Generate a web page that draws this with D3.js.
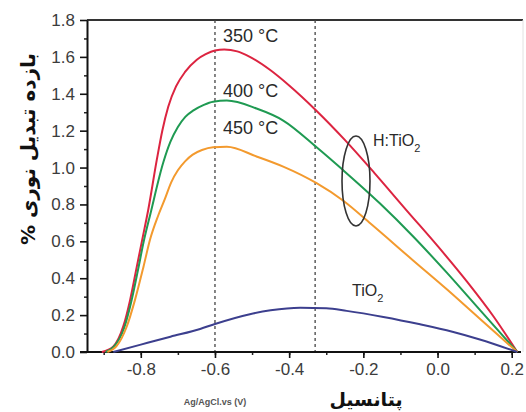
<!DOCTYPE html>
<html>
<head>
<meta charset="utf-8">
<script src="https://cdn.jsdelivr.net/npm/d3@7"></script>
<style>
  body { margin: 0; background: #fff; }
  .tick text { font-family: "Liberation Sans", Arial, sans-serif; font-size: 17px; fill: #3c3c3c; }
  .note { font-family: "Liberation Sans", Arial, sans-serif; fill: #2a2a2a; }
</style>
</head>
<body>
<div id="chart"></div>
<script>
// Potential (V vs Ag/AgCl) and efficiency (%) for each film
var pot350 = [-0.905, -0.874, -0.847, -0.829, -0.811, -0.795, -0.78, -0.757, -0.742, -0.726, -0.705, -0.68, -0.649, -0.625, -0.6, -0.575, -0.54, -0.506, -0.452, -0.4, -0.33, -0.25, -0.17, -0.08, 0.0, 0.08, 0.15, 0.215];
var eff350 = [0, 0.03, 0.14, 0.28, 0.46, 0.62, 0.77, 1.04, 1.2, 1.33, 1.44, 1.52, 1.585, 1.615, 1.635, 1.64, 1.63, 1.60, 1.53, 1.445, 1.315, 1.15, 0.97, 0.76, 0.575, 0.38, 0.195, 0];

var pot400 = [-0.895, -0.872, -0.845, -0.826, -0.808, -0.792, -0.774, -0.739, -0.72, -0.7, -0.68, -0.658, -0.63, -0.605, -0.568, -0.488, -0.416, -0.326, -0.254, -0.155, -0.065, 0.025, 0.114, 0.215];
var eff400 = [0, 0.03, 0.13, 0.27, 0.44, 0.6, 0.75, 1.03, 1.14, 1.22, 1.275, 1.31, 1.34, 1.357, 1.363, 1.32, 1.255, 1.11, 0.985, 0.805, 0.625, 0.43, 0.228, 0];

var pot450 = [-0.89, -0.866, -0.838, -0.816, -0.793, -0.775, -0.753, -0.735, -0.718, -0.7, -0.68, -0.66, -0.635, -0.605, -0.568, -0.488, -0.416, -0.326, -0.254, -0.18, -0.065, 0.025, 0.114, 0.215];
var eff450 = [0, 0.03, 0.137, 0.28, 0.46, 0.61, 0.74, 0.83, 0.92, 0.985, 1.035, 1.07, 1.095, 1.11, 1.113, 1.06, 1.005, 0.915, 0.82, 0.695, 0.495, 0.34, 0.18, 0];

var potTiO2 = [-0.874, -0.8, -0.72, -0.64, -0.6, -0.506, -0.45, -0.37, -0.3, -0.245, -0.146, -0.047, 0.04, 0.114, 0.215];
var effTiO2 = [0, 0.04, 0.083, 0.125, 0.152, 0.205, 0.226, 0.24, 0.237, 0.223, 0.19, 0.15, 0.11, 0.068, 0];

var xTicks = [-0.8, -0.6, -0.4, -0.2, 0.0, 0.2];
var xTickLabels = ["-0.8", "-0.6", "-0.4", "-0.2", "0.0", "0.2"];
var yTicks = [0, 0.2, 0.4, 0.6, 0.8, 1.0, 1.2, 1.4, 1.6, 1.8];
var yTickLabels = ["0.0", "0.2", "0.4", "0.6", "0.8", "1.0", "1.2", "1.4", "1.6", "1.8"];
var markerLines = [-0.6, -0.33];

var svgWidth = 526, svgHeight = 412;
var margin = { top: 20, right: 5, bottom: 60, left: 87 };
var chartWidth = svgWidth - margin.left - margin.right;
var chartHeight = svgHeight - margin.top - margin.bottom;

var svg = d3.select("#chart").append("svg")
    .attr("width", svgWidth)
    .attr("height", svgHeight);

var chartGroup = svg.append("g")
    .attr("transform", `translate(${margin.left}, ${margin.top})`);

var xScale = d3.scaleLinear().domain([-0.945, 0.225]).range([0, 434]);
var yScale = d3.scaleLinear().domain([0, 1.8]).range([chartHeight, 0]);

// frame top and faint right edge
chartGroup.append("line")
    .attr("x1", 0).attr("x2", 436).attr("y1", 0).attr("y2", 0)
    .attr("stroke", "#333").attr("stroke-width", 2);
chartGroup.append("line")
    .attr("x1", 436).attr("x2", 436).attr("y1", 0).attr("y2", chartHeight)
    .attr("stroke", "#e2e2e2").attr("stroke-width", 1);

// dashed guides
chartGroup.selectAll("line.guide")
    .data(markerLines)
    .enter()
    .append("line")
    .attr("class", "guide")
    .attr("x1", d => xScale(d)).attr("x2", d => xScale(d))
    .attr("y1", 0).attr("y2", chartHeight)
    .attr("stroke", "#444").attr("stroke-width", 1.3)
    .attr("stroke-dasharray", "3,3");

// minor ticks
var minorX = d3.range(-0.9, 0.21, 0.1);
var minorY = d3.range(0.1, 1.8, 0.2);
chartGroup.append("g")
    .attr("transform", `translate(0, ${chartHeight})`)
    .call(d3.axisBottom(xScale).tickValues(minorX).tickSize(3).tickSizeOuter(0).tickFormat(""))
    .call(g => g.select(".domain").remove())
    .selectAll("line").attr("stroke", "#222").attr("stroke-width", 1.5);
chartGroup.append("g")
    .call(d3.axisLeft(yScale).tickValues(minorY).tickSize(3).tickSizeOuter(0).tickFormat(""))
    .call(g => g.select(".domain").remove())
    .selectAll("line").attr("stroke", "#222").attr("stroke-width", 1.5);

// main axes
var bottomAxis = d3.axisBottom(xScale)
    .tickValues(xTicks).tickSize(6).tickSizeOuter(0).tickPadding(5)
    .tickFormat((d, i) => xTickLabels[i]);
var leftAxis = d3.axisLeft(yScale)
    .tickValues(yTicks).tickSize(7).tickSizeOuter(0).tickPadding(5)
    .tickFormat((d, i) => yTickLabels[i]);

var xAxisG = chartGroup.append("g")
    .attr("transform", `translate(0, ${chartHeight})`)
    .call(bottomAxis);
var yAxisG = chartGroup.append("g")
    .call(leftAxis);

[xAxisG, yAxisG].forEach(function(g) {
    g.select(".domain").attr("stroke", "#111").attr("stroke-width", 2);
    g.selectAll(".tick line").attr("stroke", "#111").attr("stroke-width", 1.6);
});
// x axis line runs a little left of the y axis
xAxisG.select(".domain").attr("d", `M-7,0H${xScale(0.225)}`);

// curves
var series = [
    { pot: pot350, eff: eff350, color: "#dc2440" },
    { pot: pot400, eff: eff400, color: "#1f9a52" },
    { pot: pot450, eff: eff450, color: "#f39a2e" },
    { pot: potTiO2, eff: effTiO2, color: "#3c3f8e" }
];

var line = d3.line()
    .x(d => xScale(d[0]))
    .y(d => yScale(d[1]))
    .curve(d3.curveMonotoneX);

chartGroup.selectAll("path.curve")
    .data(series)
    .enter()
    .append("path")
    .attr("class", "curve")
    .attr("fill", "none")
    .attr("stroke", d => d.color)
    .attr("stroke-width", 2)
    .attr("d", d => line(d.pot.map((p, i) => [p, d.eff[i]])));

// temperature labels
var tempLabels = [
    { text: "350 °C", y: 42 },
    { text: "400 °C", y: 97 },
    { text: "450 °C", y: 134 }
];
svg.selectAll("text.temp")
    .data(tempLabels)
    .enter()
    .append("text")
    .attr("class", "note")
    .attr("x", 223)
    .attr("y", d => d.y)
    .style("font-size", "18px")
    .text(d => d.text);

// H:TiO2 group marker
svg.append("ellipse")
    .attr("cx", 356).attr("cy", 181)
    .attr("rx", 14).attr("ry", 45)
    .attr("fill", "none").attr("stroke", "#333").attr("stroke-width", 1.6);

var hLabel = svg.append("text").attr("class", "note")
    .attr("x", 373).attr("y", 146).style("font-size", "16px");
hLabel.append("tspan").text("H:TiO");
hLabel.append("tspan").attr("dy", 6).style("font-size", "11px").text("2");

var tLabel = svg.append("text").attr("class", "note")
    .attr("x", 352).attr("y", 296).style("font-size", "16px");
tLabel.append("tspan").text("TiO");
tLabel.append("tspan").attr("dy", 6).style("font-size", "11px").text("2");

// axis titles
svg.append("text")
    .attr("transform", "translate(35, 149) rotate(-90)")
    .attr("text-anchor", "middle")
    .attr("direction", "rtl")
    .style("font-family", "'DejaVu Sans', sans-serif")
    .style("font-weight", "bold")
    .style("font-size", "20px")
    .attr("fill", "#111")
    .text("بازده تبدیل نوری %");

svg.append("text")
    .attr("x", 215).attr("y", 405)
    .attr("text-anchor", "middle")
    .style("font-family", "'Liberation Sans', Arial, sans-serif")
    .style("font-weight", "bold")
    .style("font-size", "9px")
    .attr("fill", "#555")
    .text("Ag/AgCl.vs (V)");

svg.append("text")
    .attr("x", 366).attr("y", 406)
    .attr("text-anchor", "middle")
    .attr("direction", "rtl")
    .style("font-family", "'DejaVu Sans', sans-serif")
    .style("font-weight", "bold")
    .style("font-size", "19px")
    .attr("fill", "#111")
    .text("پتانسیل");
</script>
</body>
</html>
